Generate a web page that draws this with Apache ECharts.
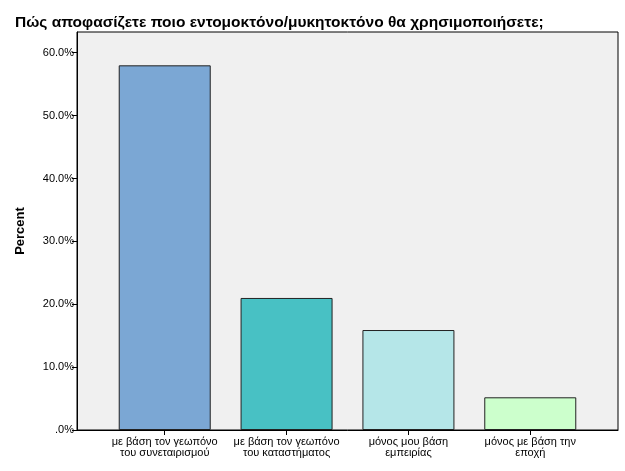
<!DOCTYPE html>
<html>
<head>
<meta charset="utf-8">
<script src="https://cdn.jsdelivr.net/npm/echarts@6/dist/echarts.min.js"></script>
<style>html,body{margin:0;padding:0;background:#fff}#main{width:625px;height:471px}</style>
</head>
<body>
<div id="main"></div>
<script>
// categories and values
var categories = ['με βάση τον γεωπόνο\nτου συνεταιρισμού', 'με βάση τον γεωπόνο\nτου καταστήματος', 'μόνος μου βάση\nεμπειρίας', 'μόνος με βάση την\nεποχή'];
var percents = [58.0, 21.0, 15.9, 5.2];
var barColors = ['#7BA7D4', '#48C1C4', '#B5E6E8', '#CCFFCC'];
var yTicks = [0, 10, 20, 30, 40, 50, 60];

var chart = echarts.init(document.getElementById('main'));
var font = 'Arial, "Liberation Sans", sans-serif';

chart.setOption({
  animation: false,
  title: {
    text: 'Πώς αποφασίζετε ποιο εντομοκτόνο/μυκητοκτόνο θα χρησιμοποιήσετε;',
    left: 10, top: 10,
    textStyle: { fontFamily: font, fontSize: 15.5, fontWeight: 'bold', color: '#000' }
  },
  grid: {
    left: 77, right: 7, top: 32, bottom: 41,
    show: true, backgroundColor: '#F0F0F0', borderColor: '#000', borderWidth: 1
  },
  xAxis: {
    type: 'value', min: -0.72, max: 3.72,
    splitLine: { show: false },
    axisLine: { onZero: false, lineStyle: { color: '#000' } },
    axisTick: { customValues: [0, 1, 2, 3], length: 5, lineStyle: { color: '#000' } },
    axisLabel: {
      customValues: [0, 1, 2, 3],
      formatter: function (v) { return categories[Math.round(v)]; },
      fontFamily: font, fontSize: 11, color: '#000', lineHeight: 11, margin: 6
    }
  },
  yAxis: {
    type: 'value', min: 0, max: 63.3,
    name: 'Percent', nameLocation: 'middle', nameGap: 50,
    nameTextStyle: { fontFamily: font, fontSize: 13, fontWeight: 'bold', color: '#000' },
    splitLine: { show: false },
    axisLine: { show: true, onZero: false, lineStyle: { color: '#000' } },
    axisTick: { show: true, customValues: yTicks, length: 5, lineStyle: { color: '#000' } },
    axisLabel: {
      customValues: yTicks,
      formatter: function (v) { return v === 0 ? '.0%' : v.toFixed(1) + '%'; },
      fontFamily: font, fontSize: 11, color: '#000', margin: 3
    }
  },
  series: [{
    type: 'bar',
    barWidth: 92,
    data: percents.map(function (p, i) {
      return { value: [i, p], itemStyle: { color: barColors[i] } };
    }),
    itemStyle: { borderColor: '#222', borderWidth: 1 }
  }]
});
</script>
</body>
</html>
